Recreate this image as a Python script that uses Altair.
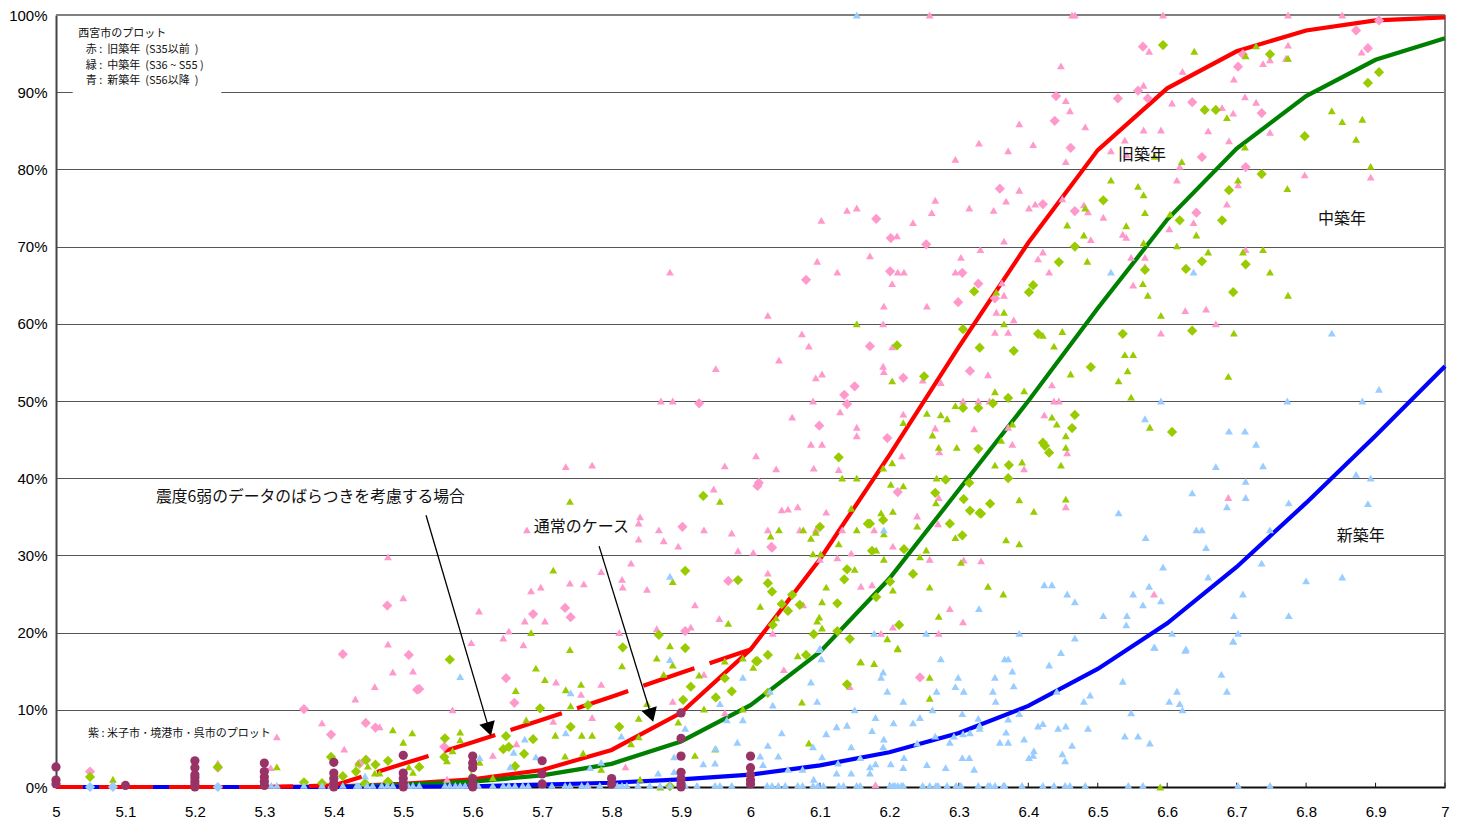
import altair as alt
import pandas as pd

x_ticks = [round(5 + i * 0.1, 1) for i in range(21)]
y_ticks = [0, 10, 20, 30, 40, 50, 60, 70, 80, 90, 100]

curve_x = [5.0, 5.1, 5.2, 5.3, 5.4, 5.5, 5.6, 5.7, 5.8, 5.9, 6.0, 6.1, 6.2, 6.3, 6.4, 6.5, 6.6, 6.7, 6.8, 6.9, 7.0]
old_curve = [0, 0, 0, 0, 0.05, 0.4, 1.0, 2.2, 4.8, 9.6, 17.8, 29.5, 43, 57, 70.5, 82.5, 90.5, 95.3, 98, 99.3, 99.7]
mid_curve = [0, 0, 0, 0, 0.03, 0.3, 0.7, 1.5, 3.0, 5.9, 10.6, 17.5, 27, 38.5, 50, 62, 73.5, 82.7, 89.5, 94.2, 97]
new_curve = [0, 0, 0, 0, 0.01, 0.03, 0.1, 0.3, 0.55, 1.0, 1.6, 2.8, 4.5, 7, 10.5, 15.3, 21.2, 28.5, 36.8, 45.5, 54.5]
dash_x = [5.0, 5.1, 5.2, 5.3, 5.4, 5.5, 5.6, 5.7, 5.8, 5.9, 6.0]
dash_curve = [0, 0, 0, 0, 0.2, 3.0, 5.8, 8.7, 11.7, 14.8, 17.8]

pink_triangles = [
 (5.478,18.5),(5.598,18.7),(5.485,14.9),(5.514,15.0),(5.459,13.0),(5.431,11.4),(5.383,8.3),(5.466,7.8),(5.415,4.9),
 (5.318,6.5),(5.571,10.0),(5.309,2.5),(5.233,3.1),(5.082,0.5),(5.563,1.0),(5.478,29.8),(5.5,24.5),(5.609,22.8),
 (5.652,20.2),(5.644,19.3),(5.673,18.4),(5.675,21.5),(5.704,21.5),(5.684,25.4),(5.698,25.9),(5.678,33.3),(5.734,41.5),
 (5.772,41.7),(5.963,41.6),(5.74,26.4),(5.76,26.3),(5.785,27.9),(5.828,29.0),(5.815,26.9),(5.816,25.9),(5.851,25.6),
 (5.841,35.0),(5.839,34.2),(5.839,32.1),(5.868,33.3),(5.875,31.9),(5.896,31.2),(5.933,33.3),(5.973,32.9),(5.982,30.6),
 (5.92,23.6),(5.955,21.8),(5.914,20.7),(5.865,20.5),(5.811,20.0),(5.947,38.6),(6.008,42.9),(6.037,41.2),(6.06,47.9),
 (6.087,44.4),(6.103,44.4),(6.091,41.3),(6.127,41.1),(6.153,46.6),(6.153,45.5),(6.129,48.6),(6.09,50),(5.871,50.0),
 (5.888,50),(6.045,35.9),(6.054,36.0),(6.068,36.3),(6.109,35.6),(6.025,33.3),(6.071,33.3),(6.094,33.3),(6.132,33.3),
 (6.004,30.4),(6.1,29.5),(6.125,29.7),(6.145,30.3),(6.025,27.7),(6.159,26.0),(6.076,23.6),(6.032,19.9),
 (6.102,73.4),(6.096,68.1),(5.884,66.7),(6.025,61.1),(6.074,58.7),(6.084,57.1),(6.041,55.3),(5.95,54.2),(6.103,53.5),(6.094,53.0),
 (6.191,54.5),(6.192,53.8),(6.248,52.7),(6.274,52.4),(6.342,53.4),(6.434,52.1),(6.22,48.3),(6.266,46.5),(6.322,46.4),
 (6.306,50),(6.328,50),(6.344,50),(6.371,46.6),(6.377,44.4),(6.423,48.2),(6.437,50),(6.444,50),(6.272,43.4),(6.218,42.9),
 (6.271,37.5),(6.24,35.1),(6.394,41.2),(6.456,43.3),(6.454,36.3),(6.27,34.1),(6.178,33.3),(6.205,31.2),(6.258,29.5),
 (6.307,29.4),(6.332,29.3),(6.175,26.2),(6.287,23.1),(6.306,21.4),(6.205,20.7),(6.188,19.9),(6.271,19.9),
 (6.258,100),(6.463,100),(6.467,100),(6.574,95.3),(6.447,93.4),(6.566,90.9),(6.454,88.9),(6.46,87.6),(6.387,85.9),
 (6.482,85.5),(6.566,85.1),(6.539,83.8),(6.329,83.4),(6.407,83.2),(6.371,82.4),(6.519,82.4),(6.295,81.3),(6.454,81.0),
 (6.387,77.3),(6.266,76.0),(6.368,75.9),(6.449,76.2),(6.41,75.5),(6.401,75.0),(6.315,75),(6.35,74.7),(6.48,75.4),
 (6.486,74.5),(6.508,73.8),(6.153,75),(6.139,74.7),(6.261,74.4),(6.234,73.1),(6.211,71.4),(6.365,70.7),(6.49,70.9),
 (6.536,71.6),(6.541,71.2),(6.172,68.8),(6.303,68.6),(6.331,69.6),(6.421,69.3),(6.414,68.4),(6.548,68.6),(6.568,68.6),
 (6.125,66.7),(6.212,66.7),(6.221,66.7),(6.295,66.7),(6.43,66.7),(6.204,65.2),(6.362,65.3),(6.551,65),(6.568,67.4),
 (6.365,63.7),(6.192,62.3),(6.254,62.3),(6.191,60),(6.379,60.5),(6.354,61.5),(6.352,58.9),(6.371,58.9),(6.204,57),
 (6.594,100),(6.774,100),(6.852,100),(6.88,95.2),(6.774,96.1),(6.748,94.2),(6.771,94.4),(6.738,93.7),(6.696,91.7),
 (6.622,92.7),(6.607,88.6),(6.712,89.4),(6.728,88.7),(6.679,88),(6.695,87.3),(6.748,84.8),(6.659,85),(6.689,83.7),
 (6.591,85.1),(6.542,81.9),(6.618,80.4),(6.614,78.6),(6.798,79.3),(6.893,79),(6.702,78),(6.686,75.5),(6.638,73.1),
 (6.603,72.3),(6.713,69.6),(6.626,61.7),(6.656,61.9),(6.67,60),(6.591,58.8),(6.688,37.5),(6.581,25),(6.18,0.3),
 (5.72,13.6),(5.756,12),(5.785,13.3),(5.716,8.5),(5.772,9),(5.888,11.1),(5.933,14.6),(5.963,9.6),(6.048,15.2),
 (5.663,5.6),(5.629,4.1),(5.82,2.6),(6.143,13),(5.766,0.2),
]
pink_diamonds = [
 (5.413,17.2),(5.508,17.1),(5.523,12.7),(5.52,12.6),(5.357,10.1),(5.446,8.3),(5.46,7.7),(5.396,6.8),(5.447,3.5),(5.437,3.0),
 (5.559,5.2),(5.049,2.0),(5.233,2.5),(5.477,23.5),(5.687,22.4),(5.733,23.2),(5.741,22.0),(5.902,33.7),(5.968,26.7),
 (5.906,20.2),(6.012,39.4),(6.01,39.0),(6.031,31.0),(6.099,46.8),(6.139,49.6),(5.926,49.7),(6.08,65.7),(6.22,53),
 (6.316,53.9),(6.15,51.9),(6.135,50.8),(6.197,45.2),(6.212,38.2),(6.03,31.1),(6.565,95.9),(6.44,89.5),(6.558,90.2),
 (6.529,89.2),(6.572,89.2),(6.438,86.3),(6.461,82.8),(6.359,77.5),(6.421,75.5),(6.467,74.6),(6.181,73.6),(6.202,71.1),
 (6.253,70.3),(6.201,66.8),(6.305,66.6),(6.328,65.2),(6.352,63.3),(6.299,62.8),(6.172,57.1),(6.905,99.3),(6.872,98),
 (6.889,95.7),(6.709,94.9),(6.702,93.3),(6.636,88.7),(6.736,87.3),(6.65,81.6),(6.713,80.3),(6.642,74.4),(6.244,14.2),
 (5.648,14.1),(5.66,10.9),
]
green_triangles = [
 (5.082,1.0),(5.318,2.6),(5.485,7.4),(5.513,7.0),(5.5,5.8),(5.582,7.1),(5.582,6.1),(5.571,4.7),(5.435,3.1),(5.449,2.7),
 (5.459,1.8),(5.466,1.8),(5.508,2.6),(5.514,1.9),(5.563,3.4),(5.443,0.5),(5.691,15.4),(5.704,13.9),(5.662,12.5),(5.734,12.6),
 (5.74,17.8),(5.677,8.7),(5.719,6.7),(5.733,4),(5.629,1.2),(5.61,3.2),(5.598,1.6),(5.756,13.3),(5.741,10.5),(5.759,4.4),
 (5.772,6.7),(5.757,6.7),(5.815,15.7),(5.884,18.3),(5.865,16.7),(5.888,15.8),(5.875,14.6),(5.851,10.8),(5.839,8.9),(5.896,8.4),
 (5.839,6.5),(5.828,5.6),(5.933,10.1),(5.92,4.1),(5.785,2.3),(5.841,1.0),(5.926,14.5),(6.068,17),(6.004,15.5),(5.989,16.7),
 (5.963,16.3),(5.989,10.1),(6.159,16.2),(6.074,11),(6.084,5.7),(5.949,4.9),(5.87,0),(5.956,37),(5.74,37),(5.716,28.1),
 (5.888,26.6),(5.684,20),(5.968,21.2),(6.014,23.4),(6.041,33.3),(6.029,32.5),(6.076,33.3),(6.094,33),(6.087,32.2),(6.127,31.5),
 (6.153,33.3),(6.09,30.2),(6.101,30.2),(6.15,28.2),(6.109,25.9),(6.103,24),(6.037,21.9),(6.099,22),(6.096,21.5),(6.103,20.6),
 (6.132,40),(6.153,40),(6.145,36.1),(6.204,52.6),(6.254,48.4),(6.274,48.2),(6.283,47.7),(6.295,49.4),(6.22,47.2),(6.262,45.6),
 (6.271,44),(6.297,44),(6.352,41.7),(6.391,42.1),(6.447,41.7),(6.454,45.5),(6.454,44),(6.441,47),(6.434,47.9),(6.394,51.3),
 (6.352,51.2),(6.461,53.5),(6.377,47),(6.361,44.9),(6.204,42),(6.191,41.3),(6.202,39.2),(6.22,39),(6.268,40),(6.267,36.8),
 (6.387,37.2),(6.454,37.3),(6.408,35.7),(6.188,35.5),(6.205,35.7),(6.24,33.8),(6.192,32.8),(6.295,32.3),(6.368,32),(6.387,31.5),
 (6.253,30.7),(6.244,29.8),(6.303,29.1),(6.192,29.5),(6.181,30.7),(6.258,25.9),(6.342,26),(6.364,25),(6.205,25.5),(6.271,22.1),
 (6.197,19.2),(6.212,18),(6.354,64.1),(6.365,61.5),(6.365,60),(6.449,59),(6.421,58.5),(6.437,57.1),(6.153,60),(6.539,56),
 (6.551,56),(6.456,72.8),(6.48,71.5),(6.485,68.1),(6.482,75),(6.519,78.6),(6.558,77.8),(6.566,76.7),(6.568,74.4),(6.541,72.7),
 (6.566,70.5),(6.565,65.2),(6.572,63.7),(6.639,95.3),(6.728,96),(6.713,94.7),(6.774,94.4),(6.686,86.7),(6.712,82.9),(6.621,81),
 (6.582,81.7),(6.837,87.6),(6.852,86.2),(6.881,86.5),(6.872,83.9),(6.893,80.4),(6.773,77.5),(6.702,78.6),(6.604,74.2),(6.642,71.5),
 (6.614,70.1),(6.659,69.3),(6.709,69.3),(6.738,69.6),(6.748,66.7),(6.774,63.7),(6.591,61.1),(6.696,58.8),(6.543,53.9),(6.53,52.6),
 (6.688,53.2),(6.548,50.5),(6.575,46.6),(6.258,14.2),(6.258,11.5),(6.212,17.9),(6.178,16),(6.158,16.2),(6.59,0),
]
green_diamonds = [
 (5.567,16.5),(5.697,10.2),(5.648,6.6),(5.687,6.2),(5.644,4.9),(5.652,5.2),(5.674,4.3),(5.661,2.7),(5.56,6.3),(5.559,3.9),
 (5.523,2.6),(5.478,3.4),(5.46,2.9),(5.446,3.5),(5.432,2),(5.413,1.4),(5.478,0.7),(5.445,0.5),(5.049,1.3),(5.233,2.6),
 (5.357,0.6),(5.396,3.9),(5.383,0.5),(5.816,18.1),(5.906,18),(6.025,17.1),(6.008,16.3),(6.01,16.3),(6.08,17.1),(6.143,19.2),
 (5.914,13),(5.973,12.4),(5.903,11.3),(5.95,11.6),(5.963,14.1),(6.025,12.2),(6.139,13.3),(5.766,10.6),(5.811,7.8),(5.741,7.8),
 (5.884,0.1),(5.932,37.7),(5.906,28),(5.982,26.8),(5.868,19.7),(6.127,42.7),(6.1,33.7),(6.169,34.1),(6.139,28.2),(6.135,26.9),
 (6.025,26.4),(6.031,25.3),(6.06,24.9),(6.045,23.7),(6.071,23.6),(6.054,22.8),(6.125,23.8),(6.032,21),(6.091,19.8),(6.125,20.2),
 (6.25,53.2),(6.379,56.5),(6.49,54.4),(6.306,49.1),(6.328,49.1),(6.349,49.7),(6.371,50.4),(6.467,48.2),(6.463,46.5),(6.421,44.6),
 (6.424,44.2),(6.43,43.3),(6.328,43.8),(6.372,41.7),(6.371,40),(6.281,39.8),(6.315,39.4),(6.266,38.1),(6.307,37.3),(6.345,36.7),
 (6.316,35.8),(6.33,35.5),(6.332,35.4),(6.191,34.6),(6.172,34.1),(6.287,34.1),(6.305,32.6),(6.221,30.8),(6.175,30.6),(6.234,27.6),
 (6.201,26.6),(6.181,24.6),(6.214,21),(6.508,76),(6.467,70),(6.444,68),(6.568,67),(6.407,65),(6.401,64.1),(6.322,64.2),
 (6.306,59.3),(6.414,58.7),(6.536,58.7),(6.33,56.9),(6.211,57.2),(6.594,96.1),(6.654,87.7),(6.67,87.7),(6.748,94.9),(6.905,92.6),
 (6.889,91.2),(6.798,84.3),(6.736,79.4),(6.689,77.3),(6.618,73.4),(6.679,73.4),(6.627,67.1),(6.65,68.1),(6.713,67.7),(6.695,64.1),
 (6.636,59.1),(6.607,46),
]
blue_triangles = [
 (6.274,16.6),(6.366,16.6),(6.371,16.6),(6.377,15),(6.43,15.8),(6.447,17.4),(6.581,18.1),(6.626,17.7),(6.695,18.9),(6.191,14.9),
 (6.188,14.2),(6.299,14.2),(6.352,14.2),(6.295,13),(6.379,13.1),(6.197,12.4),(6.268,12.4),(6.307,12.4),(6.349,12.4),(6.22,11.1),
 (6.353,11.1),(6.262,10),(6.305,9.5),(6.387,9.5),(6.18,9),(6.244,9),(6.328,8.9),(6.371,8.8),(6.206,8.3),(6.234,8.3),
 (6.33,8),(6.33,7.6),(6.368,7.1),(6.414,7.9),(6.421,8.2),(6.443,7.6),(6.454,7.9),(6.486,7.6),(6.175,7.3),(6.266,6.6),
 (6.293,6.6),(6.306,6.9),(6.316,7),(6.192,6.2),(6.191,5.2),(6.24,5.7),(6.287,5.8),(6.359,5.8),(6.371,5.8),(6.394,6.2),
 (6.463,5.4),(6.539,6.6),(6.558,6.6),(6.575,5.7),(6.408,4.7),(6.407,4.1),(6.401,3.8),(6.449,4.3),(6.453,3.4),(6.221,3.8),
 (6.305,3.8),(6.315,3.8),(6.18,3),(6.202,3),(6.254,2.9),(6.281,2.5),(6.322,2.3),(6.22,2.5),(6.172,2.6),(6.172,1.8),
 (6.441,12.4),(6.536,13.7),(6.489,11.9),(6.48,11.1),(6.678,14.6),(6.686,12.4),(6.614,12.4),(6.603,11.1),(6.618,10.8),(6.622,10),
 (6.548,9.6),(5.884,16.5),(5.906,7.6),(5.989,14.2),(6.087,13.6),(6.096,11.1),(6.102,16.6),(6.099,17.8),(6.032,10.6),(6.028,12.4),
 (5.956,10.8),(5.966,8.7),(5.989,8.7),(6.15,10),(6.045,7),(6.109,6.9),(6.124,7.8),(6.139,8),(6.145,5.2),(6.025,5.4),
 (5.981,5.8),(5.95,5),(5.89,3.9),(6.014,4),(6.04,4),(6.103,3.9),(6.09,5.2),(6.158,3.8),(5.932,3),(5.949,3.1),
 (6.018,2.9),(6.054,2.3),(6.075,2.3),(6.126,3.1),(6.124,1.8),(6.145,1.8),(6.091,1),(5.867,1.8),(5.89,2),(5.769,2.5),
 (5.785,3.2),(5.734,7),(5.675,6.2),(5.741,12.2),(5.814,6.6),(5.659,4.5),(5.654,2.6),(5.582,14.3),(5.691,3.9),(5.61,3.8),
 (5.445,1.4),(5.884,27.3),(6.192,33.3),(6.423,26.2),(6.434,26.2),(6.456,25),(6.467,24),(6.329,23.1),(6.178,19.9),(6.253,19.9),
 (6.387,19.9),(6.467,19.3),(6.1,18),(6.519,66.7),(6.638,66.7),(6.837,58.8),(6.153,100),(6.591,50),(6.773,50),(6.881,50),
 (6.905,51.5),(6.568,47.7),(6.689,46.1),(6.712,46.1),(6.728,44.4),(6.67,41.5),(6.738,41.6),(6.713,39.6),(6.872,40.5),(6.893,40),
 (6.636,38.1),(6.713,37.5),(6.686,36.3),(6.775,36.8),(6.889,36.7),(6.53,35.5),(6.642,33.3),(6.65,33.3),(6.748,33.3),(6.569,32.3),
 (6.656,31),(6.594,28.5),(6.736,29),(6.659,27.2),(6.8,26.7),(6.852,27.2),(6.574,26),(6.551,25),(6.591,24.1),(6.709,25),
 (6.565,23.6),(6.508,22.2),(6.542,22.2),(6.696,22.2),(6.775,22.2),(6.541,21),(6.607,19.9),(6.702,19.9),(6.695,18.9),(6.582,18.1),
 (6.627,17.9),
]
blue_zero_x = [
 5.31,5.318,5.357,5.383,5.396,5.413,5.433,5.436,5.448,5.456,5.469,5.477,5.485,5.507,5.514,5.523,5.56,5.567,5.575,5.582,5.589,
 5.608,5.629,5.644,5.652,5.661,5.672,5.68,5.7,5.714,5.733,5.74,5.757,5.765,5.783,5.808,5.815,5.822,5.838,5.855,5.87,5.884,
 5.906,5.923,5.949,5.956,5.973,6.024,6.031,6.04,6.05,6.068,6.075,6.09,6.097,6.105,6.127,6.134,6.153,6.158,6.201,6.205,6.208,
 6.212,6.217,6.22,6.248,6.258,6.267,6.27,6.283,6.296,6.303,6.328,6.342,6.345,6.352,6.364,6.366,6.391,6.421,6.437,6.453,6.46,
 6.482,6.544,6.565,6.702,6.748,
]
blue_diamond_x = [5.049, 5.082, 5.233]

purple_points = [
 (5.0,2.6),(5.0,0.9),(5.0,0.4),(5.1,0.2),
 (5.2,3.4),(5.2,2.5),(5.2,1.6),(5.2,1.2),(5.2,0.7),(5.2,0.3),(5.2,0),
 (5.3,3.1),(5.3,2),(5.3,1.3),(5.3,0.7),(5.3,0.2),
 (5.4,3.2),(5.4,1.8),(5.4,1.1),(5.4,0.5),(5.4,0),
 (5.5,4.1),(5.5,1.8),(5.5,1.1),(5.5,0.5),(5.5,0),
 (5.6,4),(5.6,3.1),(5.6,2.5),(5.6,1.1),(5.6,0.4),(5.6,0),
 (5.7,3.4),(5.7,1.7),(5.7,0.4),(5.8,1.1),(5.8,0.4),
 (5.9,9.6),(5.9,6.3),(5.9,4),(5.9,1.9),(5.9,1.1),(5.9,0.4),(5.9,0),
 (6.0,4),(6.0,2.5),(6.0,1.6),(6.0,0.9),(6.0,0.4),
]

note_lines = ["西宮市のプロット", "赤 :\u00a0\u00a0旧築年\u00a0\u00a0(S35以前\u00a0\u00a0)", "緑 :\u00a0\u00a0中築年\u00a0\u00a0(S36 ~ S55\u00a0)", "青 :\u00a0\u00a0新築年\u00a0\u00a0(S56以降\u00a0\u00a0)"]
note_x = [5.032, 5.043, 5.043, 5.043]
note_y = [97.5, 95.5, 93.45, 91.5]
big_labels = ["通常のケース", "旧築年", "中築年", "新築年"]
big_x = [5.688, 6.529, 6.817, 6.844]
big_y = [33.67, 81.87, 73.57, 32.47]
long_label = "震度6弱のデータのばらつきを考慮する場合"
purple_note = "紫 :  米子市 ･ 境港市 ･ 呉市のプロット"

arrow_one_x = [5.5328, 5.6235]
arrow_one_y = [35.2, 7.5]
arrow_two_x = [5.782, 5.857]
arrow_two_y = [31.2, 9.3]

JP = "Noto Sans CJK JP"
PINK, LIME, SKY, PLUM = "#FF99CC", "#99CC00", "#99CCFF", "#993366"

X = alt.X("x:Q", scale=alt.Scale(domain=[5, 7], nice=False), title=None,
          axis=alt.Axis(values=x_ticks, format="~g", grid=False, tickSize=0, labelFont="Liberation Sans",
                        labelFontSize=15, labelColor="#000", labelPadding=17, domainColor="#111", domainWidth=2,
                        labelOverlap=False, labelFlush=False))
Y = alt.Y("y:Q", scale=alt.Scale(domain=[0, 100], nice=False), title=None,
          axis=alt.Axis(values=y_ticks, labelExpr="datum.value + '%'", grid=True, gridColor="#555", gridWidth=1,
                        tickSize=0, labelFont="Liberation Sans", labelFontSize=15, labelColor="#000", labelPadding=9,
                        domainColor="#444", domainWidth=2))
xq = X
yq = Y


def frame(pairs):
    return pd.DataFrame(pairs, columns=["x", "y"])


def series(xs, ys):
    return pd.DataFrame({"x": xs, "y": ys})


def dots(pairs, shape, color, size):
    return alt.Chart(frame(pairs)).mark_point(shape=shape, filled=True, color=color, size=size, opacity=1, strokeWidth=0).encode(x=xq, y=yq)


def curve(xs, ys, color, **kw):
    return alt.Chart(series(xs, ys)).mark_line(color=color, strokeWidth=4.2, **kw).encode(x=xq, y=yq)


def label_layer(texts, xs, ys, size, color="#111"):
    df = pd.DataFrame({"x": xs, "y": ys, "t": texts})
    return alt.Chart(df).mark_text(font=JP, fontSize=size, align="left", baseline="middle", color=color).encode(x=xq, y=yq, text="t:N")


note_box = alt.Chart(pd.DataFrame({"x": [5.024], "x2": [5.238], "y": [89.0], "y2": [98.8]})).mark_rect(color="white").encode(
    x=xq, x2="x2:Q", y=yq, y2="y2:Q")

top_rule = alt.Chart(pd.DataFrame({"x": [5], "x2": [7], "y": [100]})).mark_rule(color="#808080", strokeWidth=2).encode(x=xq, x2="x2:Q", y=yq)
right_rule = alt.Chart(pd.DataFrame({"x": [7], "y": [0], "y2": [100]})).mark_rule(color="#808080", strokeWidth=2).encode(x=xq, y=yq, y2="y2:Q")
tick_marks = alt.Chart(pd.DataFrame({"x": x_ticks, "y": [0] * len(x_ticks), "y2": [0.55] * len(x_ticks)})).mark_rule(color="#111", strokeWidth=1).encode(x=xq, y=yq, y2="y2:Q")

zero_blue = [(v, 0.2) for v in blue_zero_x]
diamond_blue = [(v, 0) for v in blue_diamond_x]

arrow_lines = alt.layer(
    alt.Chart(series(arrow_one_x, arrow_one_y)).mark_line(color="black", strokeWidth=1.3).encode(x=xq, y=yq),
    alt.Chart(series(arrow_two_x, arrow_two_y)).mark_line(color="black", strokeWidth=1.3).encode(x=xq, y=yq),
)
arrow_heads = alt.layer(
    alt.Chart(frame([(arrow_one_x[1], arrow_one_y[1])])).mark_point(shape="triangle-up", filled=True, color="black", size=256, angle=163.6, opacity=1, strokeWidth=0).encode(x=xq, y=yq),
    alt.Chart(frame([(arrow_two_x[1], arrow_two_y[1])])).mark_point(shape="triangle-up", filled=True, color="black", size=256, angle=163, opacity=1, strokeWidth=0).encode(x=xq, y=yq),
)

chart = alt.layer(
    note_box,
    top_rule,
    right_rule,
    tick_marks,
    curve(curve_x, old_curve, "#FF0000"),
    curve(curve_x, mid_curve, "#008000"),
    curve(curve_x, new_curve, "#0000FF"),
    curve(dash_x, dash_curve, "#FF0000", strokeDash=[54, 16], strokeDashOffset=27),
    dots(pink_triangles, "triangle-up", PINK, 62),
    dots(pink_diamonds, "diamond", PINK, 105),
    dots(green_triangles, "triangle-up", LIME, 62),
    dots(green_diamonds, "diamond", LIME, 105),
    dots(blue_triangles, "triangle-up", SKY, 62),
    dots(zero_blue, "triangle-up", SKY, 62),
    dots(diamond_blue, "diamond", SKY, 105),
    dots(purple_points, "circle", PLUM, 85),
    arrow_lines,
    arrow_heads,
    label_layer(note_lines, note_x, note_y, 11),
    label_layer([purple_note], [5.046], [6.9], 11),
    label_layer([long_label], [5.144], [37.57], 15.8),
    label_layer(big_labels, big_x, big_y, 16),
).properties(width=1389, height=772, autosize=alt.AutoSizeParams(type="none"),
             padding={"left": 48, "top": 7, "right": 8, "bottom": 33}).configure_view(stroke=None)

chart.save("out.html", embed_options={"renderer": "svg", "actions": False})
